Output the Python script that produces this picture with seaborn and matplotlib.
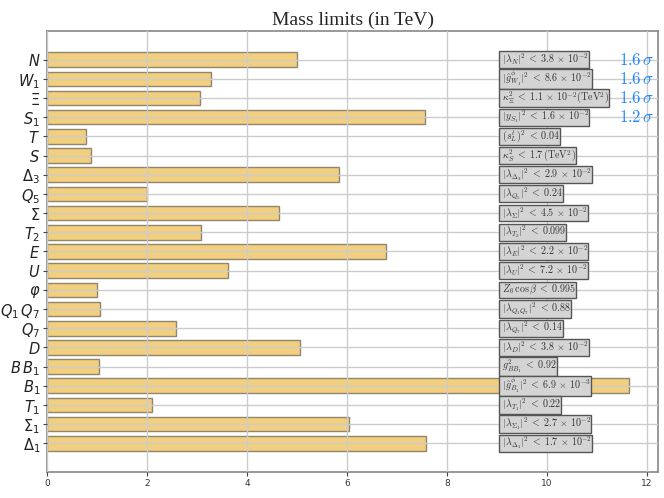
import matplotlib
matplotlib.use("Agg")
import matplotlib.pyplot as plt
import seaborn as sns
import pandas as pd

categories = [r"$N$", r"$W_1$", r"$\Xi$", r"$S_1$", r"$T$", r"$S$", r"$\Delta_3$", r"$Q_5$",
              r"$\Sigma$", r"$T_2$", r"$E$", r"$U$", r"$\varphi$", r"$Q_1\,Q_7$", r"$Q_7$",
              r"$D$", r"$B\,B_1$", r"$B_1$", r"$T_1$", r"$\Sigma_1$", r"$\Delta_1$"]
mass_limits = [5.0, 3.27, 3.05, 7.55, 0.77, 0.88, 5.84, 2.0, 4.64, 3.07, 6.77, 3.62,
               0.99, 1.06, 2.58, 5.06, 1.03, 11.64, 2.1, 6.04, 7.57]
coupling_labels = [
    r"$\;|\lambda_N|^2 \;<\; 3.8\,\times\,10^{-2}\;$",
    r"$\;|\hat{g}^{\phi}_{W_1}|^2 \;<\; 8.6\,\times\,10^{-2}\;$",
    r"$\;\kappa_{\Xi}^2 \;<\; 1.1\,\times\,10^{-2}(\mathrm{TeV}^2)\;$",
    r"$\;|y_{S_1}|^2 \;<\; 1.6\,\times\,10^{-2}\;$",
    r"$\;(s_L^t)^2 \;<\; 0.04\;$",
    r"$\;\kappa_S^2 \;<\; 1.7\,(\mathrm{TeV}^2)\;$",
    r"$\;|\lambda_{\Delta_3}|^2 \;<\; 2.9\,\times\,10^{-2}\;$",
    r"$\;|\lambda_{Q_5}|^2 \;<\; 0.24\;$",
    r"$\;|\lambda_{\Sigma}|^2 \;<\; 4.5\,\times\,10^{-2}\;$",
    r"$\;|\lambda_{T_2}|^2 \;<\; 0.099\;$",
    r"$\;|\lambda_E|^2 \;<\; 2.2\,\times\,10^{-2}\;$",
    r"$\;|\lambda_U|^2 \;<\; 7.2\,\times\,10^{-2}\;$",
    r"$\;Z_6\,\cos\beta \;<\; 0.995\;$",
    r"$\;|\lambda_{Q_1Q_7}|^2 \;<\; 0.88\;$",
    r"$\;|\lambda_{Q_7}|^2 \;<\; 0.14\;$",
    r"$\;|\lambda_D|^2 \;<\; 3.8\,\times\,10^{-2}\;$",
    r"$\;g^2_{BB_1} \;<\; 0.92\;$",
    r"$\;|\hat{g}^{\phi}_{B_1}|^2 \;<\; 6.9\,\times\,10^{-3}\;$",
    r"$\;|\lambda_{T_1}|^2 \;<\; 0.22\;$",
    r"$\;|\lambda_{\Sigma_1}|^2 \;<\; 2.7\,\times\,10^{-2}\;$",
    r"$\;|\lambda_{\Delta_1}|^2 \;<\; 1.7\,\times\,10^{-2}\;$",
]
sigma_rows = [0, 1, 2, 3]
sigma_labels = [r"$1.6\,\sigma$", r"$1.6\,\sigma$", r"$1.6\,\sigma$", r"$1.2\,\sigma$"]

sns.set_theme(style="whitegrid")
plt.rcParams["font.family"] = ["DejaVu Sans"]

df = pd.DataFrame({"particle": categories, "limit": mass_limits})

fig = plt.figure(figsize=(6.64, 4.98), dpi=100)
ax = fig.add_axes([0.071, 0.052, 0.92, 0.886])
sns.barplot(data=df, y="particle", x="limit", orient="h", ax=ax,
            color="#f2cf7e", saturation=1, width=0.76,
            edgecolor="#8f8570", linewidth=1.0)
ax.set_axisbelow(False)
ax.grid(True, color="#cccccc", linewidth=1.0)
ax.set_xlim(0, 12.22)
ax.set_ylim(len(categories) - 1 + 1.5, -1.5)
ax.set_xlabel("")
ax.set_ylabel("")
ax.set_xticks([0, 2, 4, 6, 8, 10, 12])
ax.tick_params(axis="y", labelsize=10.5, left=True, length=3, width=0.8,
               color="#444444", labelcolor="#222222", pad=2)
ax.tick_params(axis="x", labelsize=6.5, bottom=True, length=3, width=0.8,
               color="#444444", labelcolor="#333333", pad=2)
for sp in ax.spines.values():
    sp.set_color("#888888")
    sp.set_linewidth(1.2)
ax.set_title("Mass limits (in TeV)", fontsize=14, family="Liberation Serif", pad=4)

for i, lab in enumerate(coupling_labels):
    ax.text(9.05, i, lab, fontsize=7.2, math_fontfamily="cm", va="center", ha="left",
            color="#333333", zorder=6,
            bbox=dict(boxstyle="square,pad=0.05", facecolor="#d4d4d4",
                      edgecolor="#555555", linewidth=1.0))

for r, lab in zip(sigma_rows, sigma_labels):
    ax.text(12.15, r, lab, fontsize=12, math_fontfamily="cm", va="center", ha="right",
            color="#1e88ff", zorder=6)

fig.savefig("out.png", dpi=100)
